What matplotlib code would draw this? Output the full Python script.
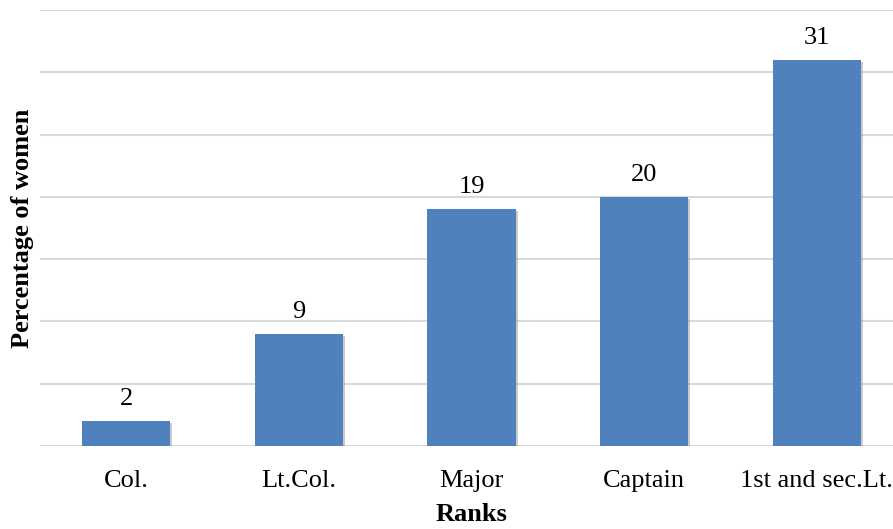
import matplotlib.pyplot as plt
import matplotlib.patheffects as pe

ranks = ["Col.", "Lt.Col.", "Major", "Captain", "1st and sec.Lt."]
percent_women = [2, 9, 19, 20, 31]

plt.rcParams["font.family"] = ["Liberation Serif", "DejaVu Serif"]

fig = plt.figure(figsize=(8.93, 5.29), dpi=100)
ax = fig.add_axes([40 / 893, 83 / 529, 863 / 893, 436 / 529])

x = range(len(ranks))
bars = ax.bar(x, percent_women, width=0.51, color="#4F81BD", zorder=3)
for b in bars:
    b.set_path_effects([pe.SimplePatchShadow(offset=(1.5, -1.5), shadow_rgbFace="#999999", alpha=0.5),
                        pe.Normal()])

for xi, v in zip(x, percent_women):
    ax.text(xi, v + 0.9, str(v), ha="center", va="bottom", fontsize=19)

ax.set_xlim(-0.5, len(ranks) - 0.5)
ax.set_ylim(0, 35)
ax.set_yticks(range(0, 36, 5))
ax.set_yticklabels([])
ax.tick_params(axis="y", length=0)
ax.tick_params(axis="x", length=0, labelsize=19, pad=17)
ax.set_xticks(list(x))
ax.set_xticklabels(ranks)
ax.grid(axis="y", color="#d9d9d9", linewidth=1.5, zorder=0)
for s in ax.spines.values():
    s.set_visible(False)

ax.set_xlabel("Ranks", fontsize=19, fontweight="bold", labelpad=8)
ax.set_ylabel("Percentage of women", fontsize=19, fontweight="bold", labelpad=1)

fig.savefig("out.png", dpi=100)
